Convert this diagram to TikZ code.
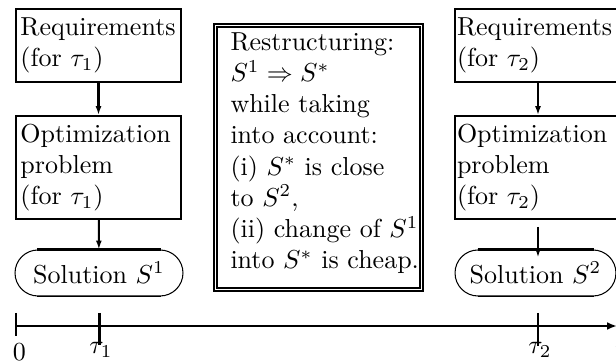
\documentclass[tikz,border=0pt]{standalone}
\usetikzlibrary{shapes.misc,arrows.meta,calc}
\begin{document}
\begin{tikzpicture}[x=0.3846pt,y=-0.3846pt,
  boxl/.style={draw,line width=0.77pt,minimum width=63.84pt,text width=60pt,
     inner xsep=1.92pt,inner ysep=0pt,align=left},
  boxr/.style={draw,line width=0.77pt,minimum width=63.84pt,text width=62.3pt,
     inner xsep=0.77pt,inner ysep=0pt,align=left},
  solbox/.style={draw,rounded rectangle,line width=0.4pt,minimum height=17.7pt,inner sep=0pt},
  arr/.style={line width=0.77pt,-{Latex[length=3.4pt,width=2.3pt]}},
  axisline/.style={line width=0.77pt,-{Latex[length=3.8pt,width=3pt]}},
  tick/.style={line width=0.77pt},
  txt/.style={font=\fontsize{10}{12}\selectfont}]
\useasboundingbox (0,0) rectangle (616,362);
\clip (0,0) rectangle (616,362);
% left column
\node[boxl,txt,minimum height=28.1pt] (req1) at (98.5,45.5) {Requirements\\(for $\tau_1$)};
\node[boxl,txt,minimum height=39.6pt] (opt1) at (98.5,167.5) {Optimization\\problem\\(for $\tau_1$)};
\node[solbox,minimum width=64.6pt] (sol1) at (99,273) {Solution $S^1$};
\draw[line width=1pt] ($(sol1.north)+(-62,0)$) -- ($(sol1.north)+(62,0)$);
\draw[line width=0.6pt] ($(sol1.south)+(-62,0)$) -- ($(sol1.south)+(62,0)$);
\draw[arr] (req1) -- (opt1);
\draw[arr] (opt1) -- (sol1);
% right column
\node[boxr,txt,minimum height=28.1pt] (req2) at (538,45.5) {Requirements\\(for $\tau_2$)};
\node[boxr,txt,minimum height=39.6pt] (opt2) at (538,167.5) {Optimization\\problem\\(for $\tau_2$)};
\node[solbox,minimum width=61.9pt] (sol2) at (535.5,273) {Solution $S^2$};
\draw[line width=1pt] ($(sol2.north)+(-58,0)$) -- ($(sol2.north)+(58,0)$);
\draw[line width=0.6pt] ($(sol2.south)+(-58,0)$) -- ($(sol2.south)+(58,0)$);
\draw[arr] (req2) -- (opt2);
\draw[arr] ($(opt2.south)+(0,7)$) -- ($(opt2.south |- sol2.north)+(0,8)$);
% middle box
\node[draw,line width=1pt,minimum width=80.4pt,minimum height=102.7pt] (restr) at (318.5,157.5) {};
\draw[line width=0.5pt] ([shift={(1.7pt,-1.7pt)}]restr.north west) rectangle ([shift={(-1.7pt,1.7pt)}]restr.south east);
\node[anchor=north west,align=left,inner sep=0pt,txt] (restrtxt) at (230,32)
 {Restructuring:\\ $S^1\Rightarrow S^*$\\ while taking\\ into account:\\ (i) $S^*$ is close\\ to $S^2$,\\ (ii) change of $S^1$\\ into $S^*$ is cheap.};
% time axis
\coordinate (o) at (16,326);
\coordinate (tend) at (617,326);
\draw[axisline] (o) -- (tend);
\draw[tick] (16,313) -- (16,336);
\draw[tick] (99.5,313) -- (99.5,345);
\draw[tick] (538,313) -- (538,346);
\node (l0) at (19.5,352) {$0$};
\node (lt1) at (101,350) {$\tau_1$};
\node (lt2) at (540,350) {$\tau_2$};
\node (lt) at (620,350) {$t$};
\end{tikzpicture}
\end{document}
